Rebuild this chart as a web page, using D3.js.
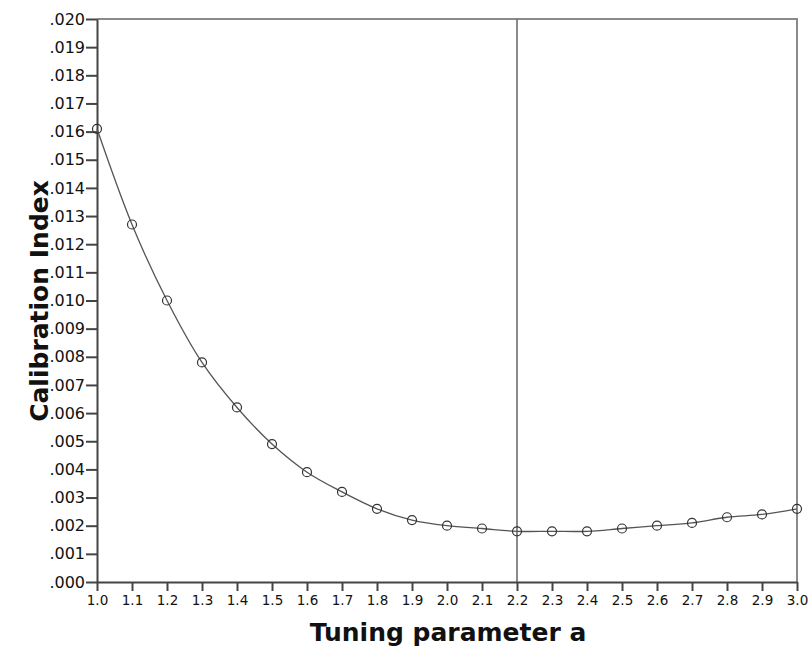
<!DOCTYPE html>
<html>
<head>
<meta charset="utf-8">
<script src="https://cdn.jsdelivr.net/npm/d3@7"></script>
<style>
  body { margin: 0; background: #fff; }
  svg { display: block; }
</style>
</head>
<body>
<div id="chart"></div>
<script>
// tuning parameter a vs calibration index
var tuning = [1.0, 1.1, 1.2, 1.3, 1.4, 1.5, 1.6, 1.7, 1.8, 1.9, 2.0,
              2.1, 2.2, 2.3, 2.4, 2.5, 2.6, 2.7, 2.8, 2.9, 3.0];
var calib = [0.0161, 0.0127, 0.0100, 0.0078, 0.0062, 0.0049, 0.0039, 0.0032, 0.0026, 0.0022, 0.0020,
             0.0019, 0.0018, 0.0018, 0.0018, 0.0019, 0.0020, 0.0021, 0.0023, 0.0024, 0.0026];
var refLine = 2.2;
var xTicks = d3.range(10, 31).map(function(d){ return d / 10; });
var yTicks = d3.range(0, 21).map(function(d){ return d / 1000; });

var width = 808, height = 648;
var margin = {top: 19, right: 11, bottom: 66, left: 97};
var widthG = width - margin.left - margin.right;
var heightG = height - margin.top - margin.bottom;

var svg = d3.select("#chart").append("svg")
  .attr("width", width)
  .attr("height", height);

var g = svg.append("g")
  .attr("transform", "translate(" + margin.left + "," + margin.top + ")");

var x = d3.scaleLinear().domain([1.0, 3.0]).range([0, widthG]);
var y = d3.scaleLinear().domain([0, 0.020]).range([heightG, 0]);

var points = tuning.map(function(t, i){ return {a: t, v: calib[i]}; });

// frame (top and right)
g.append("path")
  .attr("d", "M0,0H" + widthG + "V" + heightG)
  .attr("fill", "none")
  .attr("stroke", "#8a8a8a")
  .attr("stroke-width", 2);

// reference line
g.append("line")
  .attr("x1", x(refLine)).attr("x2", x(refLine))
  .attr("y1", 0).attr("y2", heightG)
  .attr("stroke", "#6e6e6e")
  .attr("stroke-width", 1.6);

// axes
var xAxis = g.append("g")
  .attr("transform", "translate(0," + heightG + ")")
  .call(d3.axisBottom(x).tickValues(xTicks).tickFormat(d3.format(".1f"))
    .tickSize(9).tickSizeOuter(0).tickPadding(4));

var yAxis = g.append("g")
  .call(d3.axisLeft(y).tickValues(yTicks)
    .tickFormat(function(d){ return d3.format(".3f")(d).replace(/^0/, ""); })
    .tickSize(11).tickSizeOuter(0).tickPadding(1));

[xAxis, yAxis].forEach(function(ax){
  ax.select(".domain").attr("stroke", "#444").attr("stroke-width", 2);
  ax.selectAll(".tick line").attr("stroke", "#444").attr("stroke-width", 2);
  ax.selectAll("text").attr("fill", "#111").style("font-family", "DejaVu Sans, sans-serif");
});
xAxis.selectAll("text").style("font-size", "13.5px");
yAxis.selectAll("text").style("font-size", "16px");

// curve
g.append("path")
  .datum(points)
  .attr("fill", "none")
  .attr("stroke", "#555")
  .attr("stroke-width", 1.3)
  .attr("d", d3.line()
    .curve(d3.curveCatmullRom)
    .x(function(d){ return x(d.a); })
    .y(function(d){ return y(d.v); }));

g.selectAll("circle.pt")
  .data(points)
  .enter().append("circle")
  .attr("class", "pt")
  .attr("cx", function(d){ return x(d.a); })
  .attr("cy", function(d){ return y(d.v); })
  .attr("r", 4.5)
  .attr("fill", "none")
  .attr("stroke", "#333")
  .attr("stroke-width", 1.2);

// titles
svg.append("text")
  .attr("x", margin.left + widthG / 2 + 1)
  .attr("y", 641)
  .attr("text-anchor", "middle")
  .style("font-family", "DejaVu Sans, sans-serif")
  .style("font-weight", "bold")
  .style("font-size", "25px")
  .attr("fill", "#111")
  .text("Tuning parameter a");

svg.append("text")
  .attr("transform", "translate(48," + 301 + ") rotate(-90)")
  .attr("text-anchor", "middle")
  .style("font-family", "DejaVu Sans, sans-serif")
  .style("font-weight", "bold")
  .style("font-size", "25px")
  .attr("fill", "#111")
  .text("Calibration Index");
</script>
</body>
</html>
